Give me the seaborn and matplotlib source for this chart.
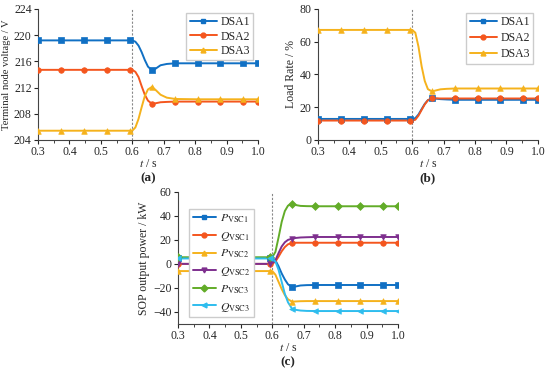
import matplotlib
matplotlib.use("Agg")
import matplotlib.pyplot as plt
from matplotlib.lines import Line2D
from matplotlib.ticker import MultipleLocator
import pandas as pd
import seaborn as sns

# time samples (shared by all panels)
t = [0.3, 0.373, 0.447, 0.52, 0.594, 0.6, 0.61, 0.62, 0.63, 0.64, 0.65,
     0.663, 0.675, 0.69, 0.71, 0.737, 0.81, 0.88, 0.953, 1.0]
# times where Origin drew the symbols
marker_t = [0.3, 0.373, 0.447, 0.52, 0.594, 0.663, 0.737, 0.81, 0.88, 0.953, 1.0]

# (a) terminal node voltage / V
dsa1_v = [219.2, 219.2, 219.2, 219.2, 219.2, 219.2, 219.0, 218.4, 217.4, 216.2, 215.2,
          214.6, 214.9, 215.4, 215.6, 215.7, 215.7, 215.7, 215.7, 215.7]
dsa2_v = [214.7, 214.7, 214.7, 214.7, 214.7, 214.7, 214.4, 213.6, 212.2, 210.9, 210.0,
          209.5, 209.6, 209.75, 209.8, 209.85, 209.85, 209.85, 209.85, 209.85]
dsa3_v = [205.4, 205.4, 205.4, 205.4, 205.4, 205.4, 205.9, 207.2, 209.0, 210.7, 211.7,
          212.1, 211.6, 210.9, 210.45, 210.25, 210.2, 210.2, 210.2, 210.2]

# (b) load rate / %
dsa1_r = [12.8, 12.8, 12.8, 12.8, 12.8, 12.8, 13.3, 15.5, 18.8, 22.0, 24.3,
          25.3, 25.2, 24.9, 24.7, 24.5, 24.5, 24.5, 24.5, 24.5]
dsa2_r = [11.8, 11.8, 11.8, 11.8, 11.8, 11.8, 12.3, 14.8, 18.3, 21.7, 24.2,
          25.3, 25.4, 25.3, 25.3, 25.3, 25.3, 25.3, 25.3, 25.3]
dsa3_r = [67.2, 67.2, 67.2, 67.2, 67.2, 67.2, 65.5, 57.0, 45.0, 36.0, 31.0,
          29.6, 30.2, 30.9, 31.2, 31.4, 31.4, 31.4, 31.4, 31.4]

# (c) SOP output power / kW
p_vsc1 = [5, 5, 5, 5, 5, 5, 3, -2, -8, -13, -17, -19.4, -18.8, -18, -17.7, -17.6, -17.6, -17.6, -17.6, -17.6]
q_vsc1 = [0, 0, 0, 0, 0, 0, 2, 6, 10.5, 14, 16.3, 17.5, 17.6, 17.6, 17.6, 17.6, 17.6, 17.6, 17.6, 17.6]
p_vsc2 = [-6, -6, -6, -6, -6, -6, -9, -15, -21, -26, -29.5, -31.5, -31.3, -31.1, -31, -31, -31, -31, -31, -31]
q_vsc2 = [0, 0, 0, 0, 0, 0, 3, 9, 14.5, 18, 20, 21, 21.6, 22, 22.2, 22.4, 22.4, 22.4, 22.4, 22.4]
p_vsc3 = [5.5, 5.5, 5.5, 5.5, 5.5, 5.5, 10, 22, 35, 44, 48.5, 50, 49, 48.3, 48.1, 48, 48, 48, 48, 48]
q_vsc3 = [4.5, 4.5, 4.5, 4.5, 4.5, 4.5, 2, -5, -15, -25, -32, -37.4, -38.3, -38.9, -39.2, -39.3, -39.3, -39.3, -39.3, -39.3]

dsa_names = ["DSA1", "DSA2", "DSA3"]
vsc_names = [r"$P_{\rm VSC1}$", r"$Q_{\rm VSC1}$", r"$P_{\rm VSC2}$",
             r"$Q_{\rm VSC2}$", r"$P_{\rm VSC3}$", r"$Q_{\rm VSC3}$"]

BLUE, ORANGE, YELLOW = "#1070C4", "#F4561E", "#F5B21C"
PURPLE, GREEN, CYAN = "#7E2F8E", "#62AC28", "#2EBDEE"

sns.set_theme(style="ticks")
plt.rcParams["font.family"] = ["Liberation Serif", "DejaVu Serif"]
plt.rcParams["mathtext.fontset"] = "stix"
plt.rcParams["font.size"] = 8


def long_df(names, series):
    rows = []
    for name, vals in zip(names, series):
        for ti, v in zip(t, vals):
            rows.append({"t": ti, "v": v, "s": name})
    return pd.DataFrame(rows)


def draw(ax, names, series, colors, markers, ylim, ystep, ylabel, legend_kw, ylabel_size=8.5):
    df = long_df(names, series)
    pal = dict(zip(names, colors))
    ax.axvline(0.6, color="#888888", lw=0.8, ls=(0, (2, 1.5)), zorder=1)
    sns.lineplot(data=df, x="t", y="v", hue="s", palette=pal, estimator=None,
                 sort=True, lw=1.4, legend=False, ax=ax, zorder=3)
    mk = df[df["t"].isin(marker_t)]
    for name, m in zip(names, markers):
        sub = mk[mk["s"] == name]
        sns.scatterplot(data=sub, x="t", y="v", color=pal[name], marker=m, s=16,
                        edgecolor=pal[name], linewidth=0.5, legend=False, ax=ax,
                        zorder=4)
    ax.set_xlim(0.3, 1.0)
    ax.set_ylim(*ylim)
    ax.xaxis.set_major_locator(MultipleLocator(0.1))
    ax.xaxis.set_minor_locator(MultipleLocator(0.05))
    ax.yaxis.set_major_locator(MultipleLocator(ystep))
    ax.tick_params(direction="out", length=3, width=0.8, labelsize=8.5, pad=1.5)
    ax.tick_params(which="minor", direction="out", length=2, width=0.6)
    sns.despine(ax=ax)
    for sp in ax.spines.values():
        sp.set_color("#444444")
        sp.set_linewidth(0.8)
    ax.set_xlabel("$t$ / s", fontsize=8.5, labelpad=0)
    ax.set_ylabel(ylabel, fontsize=ylabel_size, labelpad=2)
    handles = [Line2D([], [], color=c, marker=m, ms=3.5, lw=1.4) for c, m in zip(colors, markers)]
    leg = ax.legend(handles, names, fontsize=8.5, frameon=True, fancybox=False,
                    edgecolor="#cccccc", framealpha=1,
                    handletextpad=0.3, borderpad=0.3, borderaxespad=0.2, **legend_kw)
    leg.set_zorder(10)


fig = plt.figure(figsize=(5.5, 3.74), dpi=100)
ax_a = fig.add_axes([0.069, 0.626, 0.4, 0.350])
ax_b = fig.add_axes([0.578, 0.626, 0.4, 0.350])
ax_c = fig.add_axes([0.3236, 0.134, 0.4, 0.353])

draw(ax_a, dsa_names, [dsa1_v, dsa2_v, dsa3_v], [BLUE, ORANGE, YELLOW], ["s", "o", "^"],
     (204, 224), 4, "Terminal node voltage / V",
     dict(loc="upper right", bbox_to_anchor=(0.99, 0.99), labelspacing=0.2, handlelength=2.3),
     ylabel_size=7.6)
draw(ax_b, dsa_names, [dsa1_r, dsa2_r, dsa3_r], [BLUE, ORANGE, YELLOW], ["s", "o", "^"],
     (0, 80), 20, "Load Rate / %",
     dict(loc="upper right", bbox_to_anchor=(0.99, 0.99), labelspacing=0.35, handlelength=2.3))
draw(ax_c, vsc_names, [p_vsc1, q_vsc1, p_vsc2, q_vsc2, p_vsc3, q_vsc3],
     [BLUE, ORANGE, YELLOW, PURPLE, GREEN, CYAN], ["s", "o", "^", "v", "D", "<"],
     (-50, 60), 20, "SOP output power / kW",
     dict(loc="upper left", bbox_to_anchor=(0.04, 0.89), labelspacing=0.42, handlelength=2.0))

fig.text(0.269, 0.522, "(a)", ha="center", va="center", fontsize=9.5, fontweight="bold")
fig.text(0.778, 0.522, "(b)", ha="center", va="center", fontsize=9.5, fontweight="bold")
fig.text(0.524, 0.032, "(c)", ha="center", va="center", fontsize=9.5, fontweight="bold")

fig.savefig("out.png", dpi=100)
